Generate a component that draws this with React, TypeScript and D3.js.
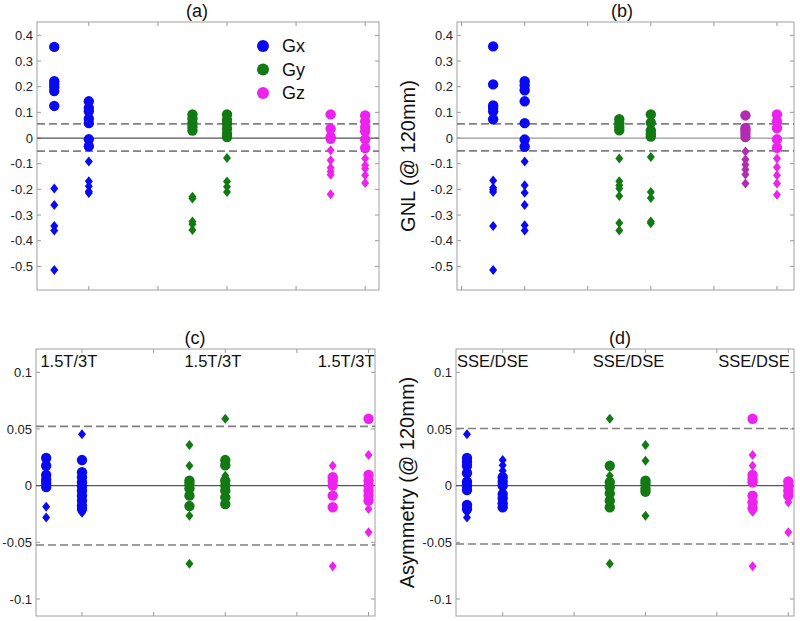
import * as d3 from 'd3';
import React, { useRef, useEffect } from 'react';

// column layout shared by all four panels: two columns per gradient axis
const columnX = [0.5, 1, 2.5, 3, 4.5, 5];
const columnAxis = ['Gx', 'Gx', 'Gy', 'Gy', 'Gz', 'Gz'];

// (a) GNL, circles / diamonds per column
const aCircles = [
    [0.355, 0.221, 0.21, 0.198, 0.183, 0.125],
    [0.143, 0.117, 0.104, 0.075, 0.058, -0.005, -0.032],
    [0.092, 0.075, 0.058, 0.043, 0.029],
    [0.092, 0.071, 0.056, 0.036, 0.017, 0.004],
    [0.092, 0.036, 0.004, -0.003],
    [0.088, 0.065, 0.043, 0.026, -0.005, -0.039],
];
const aDiamonds = [
    [-0.197, -0.261, -0.343, -0.36, -0.514],
    [-0.091, -0.168, -0.188, -0.208, -0.214],
    [-0.229, -0.236, -0.325, -0.336, -0.358],
    [-0.078, -0.169, -0.19, -0.21],
    [-0.048, -0.087, -0.116, -0.13, -0.143, -0.219],
    [-0.08, -0.106, -0.12, -0.145, -0.175],
];

// (b) GNL
const bCircles = [
    [0.357, 0.209, 0.127, 0.117, 0.104, 0.073],
    [0.221, 0.205, 0.186, 0.143, 0.058, -0.006, -0.034],
    [0.073, 0.058, 0.043, 0.03],
    [0.092, 0.06, 0.03, 0.017, 0.006],
    [0.088, 0.039, 0.03, 0.017, 0.004],
    [0.092, 0.065, 0.039, -0.005, -0.038],
];
const bDiamonds = [
    [-0.165, -0.194, -0.201, -0.21, -0.343, -0.514],
    [-0.091, -0.184, -0.213, -0.261, -0.34, -0.36],
    [-0.08, -0.168, -0.184, -0.197, -0.226, -0.331, -0.36],
    [-0.074, -0.21, -0.234, -0.325, -0.332],
    [-0.052, -0.084, -0.104, -0.123, -0.142, -0.177],
    [-0.08, -0.114, -0.145, -0.177, -0.221],
];

// (c) asymmetry 1.5T/3T
const cCircles = [
    [0.0244, 0.0176, 0.0094, 0.0053, 0.0024, -0.0012],
    [0.0226, 0.0118, 0.0074, 0.003, -0.0006, -0.0044, -0.0088, -0.0132, -0.0176, -0.0206],
    [0.0044, 0.0015, -0.0024, -0.0088, -0.018],
    [0.0226, 0.018, 0.0044, 0, -0.0044, -0.0103, -0.0162],
    [0.0074, 0.0044, 0, -0.0088, -0.019],
    [0.059, 0.0094, 0.0044, 0, -0.0044, -0.0088, -0.0132],
];
const cDiamonds = [
    [-0.0185, -0.028],
    [0.0453, -0.024],
    [0.0359, 0.0176, -0.006, -0.0265, -0.069],
    [0.059, 0.0088],
    [0.0176, -0.071],
    [0.027, -0.0206, -0.041],
];

// (d) asymmetry SSE/DSE
const dCircles = [
    [0.0244, 0.021, 0.0176, 0.0112, 0.0035, 0, -0.0038, -0.017, -0.0206],
    [0.0074, 0.0035, 0, -0.0074, -0.011, -0.0156, -0.019],
    [0.0176, 0.003, -0.0015, -0.0068, -0.0132, -0.019],
    [0.0044, 0.0015, -0.0024, -0.0053],
    [0.059, 0.0094, 0.0059, 0.003, -0.0088, -0.0147, -0.02],
    [0.0038, 0, -0.0044, -0.0088],
];
const dDiamonds = [
    [0.0453, -0.0235, -0.028],
    [0.0226, 0.018, 0.0132],
    [0.059, 0.0088, -0.069],
    [0.0359, 0.022, -0.0265],
    [0.027, 0.0176, -0.023, -0.071],
    [-0.0147, -0.041],
];

const gnlTicks = [-0.5, -0.4, -0.3, -0.2, -0.1, 0, 0.1, 0.2, 0.3, 0.4];
const asymTicks = [-0.1, -0.05, 0, 0.05, 0.1];
const cLabels = ['1.5T/3T', '1.5T/3T', '1.5T/3T'];
const cLabelX = [0.42, 2.43, 4.29];
const dLabels = ['SSE/DSE', 'SSE/DSE', 'SSE/DSE'];
const dLabelX = [0.36, 2.26, 4.02];
const legendNames = ['Gx', 'Gy', 'Gz'];

const colours = { Gx: '#0a0af0', Gy: '#137a13', Gz: '#ee22ee' };
const font = 'Liberation Sans, Arial, Helvetica, sans-serif';

const panels = [
    { title: '(a)', titleX: 197, box: [37, 22, 379, 290], xDom: [0.25, 5.2], yDom: [-0.592, 0.452], xTicks: [1, 2, 3, 4, 5],
        yTicks: gnlTicks, band: [0.055, -0.051], circles: aCircles, diamonds: aDiamonds, zero: '#555', legend: true },
    { title: '(b)', titleX: 622, box: [457, 22, 794, 290], xDom: [-0.073, 5.27], yDom: [-0.592, 0.452], xTicks: [0, 1, 2, 3, 4, 5],
        yTicks: gnlTicks, band: [0.055, -0.05], circles: bCircles, diamonds: bDiamonds, zero: '#999', ylabel: 'GNL (@ 120mm)', darkZ: true },
    { title: '(c)', titleX: 195, box: [36, 349, 375, 616], xDom: [0.358, 5.09], yDom: [-0.115, 0.1206], xTicks: [1, 2, 3, 4, 5],
        yTicks: asymTicks, band: [0.0523, -0.0523], circles: cCircles, diamonds: cDiamonds, zero: '#555', labels: cLabels, labelX: cLabelX },
    { title: '(d)', titleX: 620, box: [456, 349, 794, 616], xDom: [0.346, 5.08], yDom: [-0.115, 0.1206], xTicks: [1, 2, 3, 4, 5],
        yTicks: asymTicks, band: [0.0505, -0.0515], circles: dCircles, diamonds: dDiamonds, zero: '#555', labels: dLabels, labelX: dLabelX,
        ylabel: 'Asymmetry (@ 120mm)' },
];

const diamond = 'M0,-5L4,0L0,5L-4,0Z';

export default function App() {
    const ref = useRef(null);

    useEffect(() => {
        d3.select(ref.current).selectAll('svg').remove();

        const svg = d3.select(ref.current)
            .append('svg')
            .attr('width', 800)
            .attr('height', 621)
            .style('display', 'block')
            .style('font-family', font);

        svg.append('rect').attr('width', 800).attr('height', 621).attr('fill', '#fff');

        panels.forEach((p: any) => {
            const [x0, y0, x1, y1] = p.box;
            const x = d3.scaleLinear().domain(p.xDom).range([x0, x1]);
            const y = d3.scaleLinear().domain(p.yDom).range([y1, y0]);
            const g = svg.append('g');

            // ticks on all four sides, pointing in
            p.yTicks.forEach((t) => {
                g.append('line').attr('x1', x0).attr('x2', x0 + 4).attr('y1', y(t)).attr('y2', y(t)).attr('stroke', '#999');
                g.append('line').attr('x1', x1).attr('x2', x1 - 4).attr('y1', y(t)).attr('y2', y(t)).attr('stroke', '#999');
                g.append('text')
                    .attr('x', x0 - 4).attr('y', y(t)).attr('dy', '0.35em')
                    .attr('text-anchor', 'end')
                    .style('font-size', '13px').attr('fill', '#222')
                    .text(String(t));
            });
            p.xTicks.forEach((t) => {
                g.append('line').attr('x1', x(t)).attr('x2', x(t)).attr('y1', y1).attr('y2', y1 - 4).attr('stroke', '#999');
                g.append('line').attr('x1', x(t)).attr('x2', x(t)).attr('y1', y0).attr('y2', y0 + 4).attr('stroke', '#999');
            });

            g.append('rect')
                .attr('x', x0).attr('y', y0)
                .attr('width', x1 - x0).attr('height', y1 - y0)
                .attr('fill', 'none').attr('stroke', '#a0a0a0');

            g.append('line')
                .attr('x1', x0).attr('x2', x1).attr('y1', y(0)).attr('y2', y(0))
                .attr('stroke', p.zero).attr('stroke-width', 1.2);

            p.band.forEach((b) => {
                g.append('line')
                    .attr('x1', x0).attr('x2', x1).attr('y1', y(b)).attr('y2', y(b))
                    .attr('stroke', '#808080').attr('stroke-width', 1.6)
                    .attr('stroke-dasharray', '8,4');
            });

            columnX.forEach((cx, i) => {
                let col = colours[columnAxis[i]];
                if (p.darkZ && i === 4) col = '#b02cb0';
                g.selectAll('.c' + i)
                    .data(p.circles[i])
                    .enter().append('circle')
                    .attr('cx', x(cx))
                    .attr('cy', (d) => y(d))
                    .attr('r', 5.2)
                    .attr('fill', col);
                g.selectAll('.d' + i)
                    .data(p.diamonds[i])
                    .enter().append('path')
                    .attr('d', diamond)
                    .attr('transform', (d) => 'translate(' + x(cx) + ',' + y(d) + ')')
                    .attr('fill', col);
            });

            if (p.labels) {
                p.labels.forEach((l, i) => {
                    g.append('text')
                        .attr('x', x(p.labelX[i])).attr('y', y0 + 18)
                        .style('font-size', '16.5px').attr('fill', '#111')
                        .text(l);
                });
            }

            g.append('text')
                .attr('x', p.titleX).attr('y', y0 - 5)
                .attr('text-anchor', 'middle')
                .style('font-size', '18px').attr('fill', '#111')
                .text(p.title);

            if (p.ylabel) {
                g.append('text')
                    .attr('transform', 'translate(' + (x0 - 42) + ',' + ((y0 + y1) / 2) + ') rotate(-90)')
                    .attr('text-anchor', 'middle')
                    .style('font-size', '20px').attr('fill', '#111')
                    .text(p.ylabel);
            }

            if (p.legend) {
                legendNames.forEach((n, i) => {
                    g.append('circle')
                        .attr('cx', x0 + 226).attr('cy', y0 + 24 + i * 23.5)
                        .attr('r', 6).attr('fill', colours[n]);
                    g.append('text')
                        .attr('x', x0 + 245).attr('y', y0 + 24 + i * 23.5).attr('dy', '0.36em')
                        .style('font-size', '18px').attr('fill', '#111')
                        .text(n);
                });
            }
        });
    }, []);

    return (
        <div ref={ref} style={{ position: 'absolute', left: 0, top: 0 }}>
        </div>
    );
}
